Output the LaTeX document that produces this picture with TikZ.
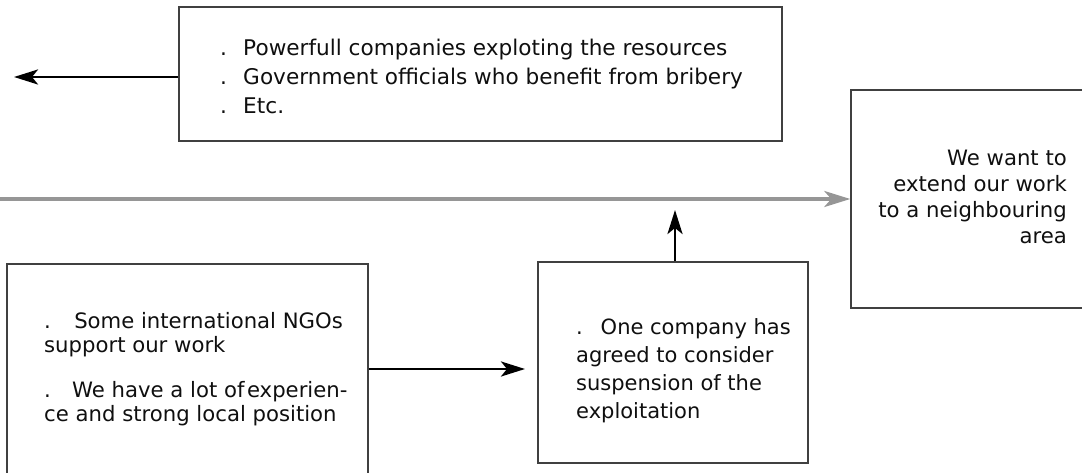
\documentclass[tikz,border=0pt]{standalone}
\usepackage{fontspec}
\setmainfont{DejaVu Sans}
\usetikzlibrary{arrows.meta}
\definecolor{boxline}{RGB}{64,64,64}
\definecolor{trackgray}{RGB}{150,150,150}
\definecolor{textdark}{RGB}{15,15,15}

\begin{document}
\begin{tikzpicture}[x=1pt, y=-1pt,
    frame/.style={draw=boxline, line width=1.5pt, inner sep=0pt},
    label/.style={inner sep=0pt, text=textdark, align=left},
    push/.style={line width=2.8pt, -{Stealth[length=24pt,width=15pt,inset=6pt]}},
    track/.style={draw=trackgray, line width=3.4pt, -{Stealth[length=26pt,width=16pt,inset=7pt]}}]
    \useasboundingbox (0,0) rectangle (1082,473);

    % Boxes
    \node[frame, minimum width=603, minimum height=134] (topbox) at (480.5,74) {};
    \node[frame, minimum width=249, minimum height=218] (rightbox) at (975.5,199) {};
    \node[frame, minimum width=361, minimum height=226] (leftbox) at (187.5,377) {};
    \node[frame, minimum width=270, minimum height=201] (midbox) at (673,362.5) {};

    % Texts
    \node[label, anchor=north west, font=\fontsize{21.6}{29}\selectfont] (toptext) at (220,39)
        {.\hspace{0.75em}Powerfull companies exploting the resources\\
         .\hspace{0.75em}Government officials who benefit from bribery\\
         .\hspace{0.75em}Etc.};
    \node[label, anchor=north west, font=\fontsize{21.2}{24.5}\selectfont] (lefttext) at (44,312)
        {.\hspace{1.1em}Some international NGOs\\
         support our work\\[20pt]
         .\hspace{1em}We have a lot of\hspace{0.12em}experien-\\
         ce and strong local position};
    \node[label, anchor=north west, font=\fontsize{21}{28}\selectfont] (midtext) at (576,318)
        {.\hspace{0.85em}One company has\\
         agreed to consider\\
         suspension of the\\
         exploitation};
    \node[label, anchor=north east, align=right, font=\fontsize{21.2}{26}\selectfont] (righttext) at (1067,150)
        {We want to\\
         extend our work\\
         to a neighbouring\\
         area};

    % Arrows
    \coordinate (leftend) at (14,77);
    \draw[push] (topbox.west |- leftend) -- (leftend);
    \coordinate (trackstart) at (0,199);
    \draw[track] (trackstart) -- (rightbox.west);
    \coordinate (gapend) at (525,369);
    \draw[push] (leftbox.east |- gapend) -- (gapend);
    \coordinate (upend) at (675,210);
    \draw[push] (midbox.north -| upend) -- (upend);
\end{tikzpicture}
\end{document}
